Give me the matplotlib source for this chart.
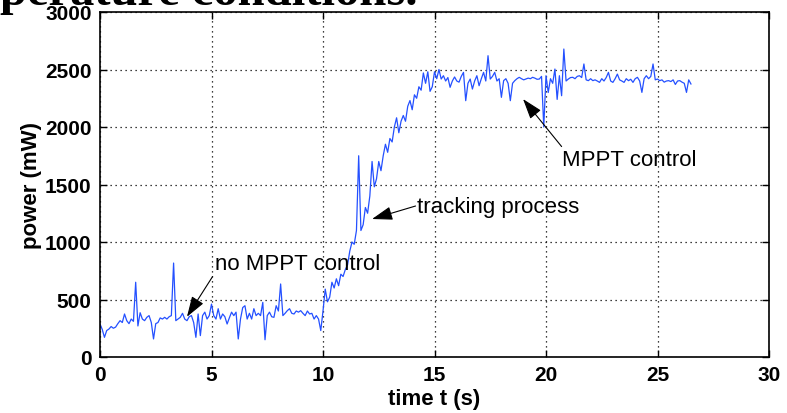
import numpy as np
import matplotlib
matplotlib.use("Agg")
import matplotlib.pyplot as plt

dt = 0.1
power = [
    287, 240, 171, 230, 243, 265, 250, 260, 290, 316,
    300, 374, 316, 290, 330, 310, 650, 270, 385, 330,
    316, 345, 360, 300, 157, 290, 300, 340, 330, 345,
    330, 350, 360, 817, 316, 330, 345, 380, 330, 316,
    350, 360, 300, 171, 374, 186, 360, 390, 330, 360,
    460, 360, 330, 420, 330, 374, 350, 287, 340, 390,
    360, 390, 157, 330, 430, 446, 330, 380, 330, 420,
    360, 380, 360, 475, 150, 360, 390, 350, 345, 446,
    400, 635, 360, 380, 403, 420, 380, 374, 400, 390,
    403, 380, 360, 400, 374, 380, 330, 360, 330, 230,
    400, 590, 480, 520, 650, 600, 680, 620, 720, 700,
    760, 800, 920, 1000, 980, 1100, 1750, 1100, 1150, 1300,
    1250, 1400, 1700, 1480, 1550, 1700, 1620, 1750, 1850, 1780,
    1900, 1870, 2000, 2080, 1950, 2050, 2100, 2050, 2180, 2230,
    2150, 2280, 2250, 2350, 2320, 2470, 2380, 2480, 2310, 2350,
    2480, 2420, 2500, 2417, 2446, 2400, 2430, 2345, 2400, 2435,
    2400, 2390, 2440, 2475, 2229, 2380, 2417, 2330, 2400, 2446,
    2359, 2420, 2475, 2400, 2620, 2417, 2440, 2475, 2400, 2420,
    2258, 2403, 2420, 2380, 2229, 2380, 2403, 2420, 2432, 2420,
    2410, 2417, 2425, 2420, 2432, 2425, 2415, 2417, 2440, 2000,
    2446, 2300, 2420, 2380, 2504, 2240, 2446, 2272, 2678, 2400,
    2417, 2430, 2432, 2420, 2440, 2446, 2430, 2548, 2410, 2403,
    2420, 2403, 2410, 2400, 2388, 2420, 2400, 2430, 2475, 2400,
    2388, 2420, 2460, 2410, 2400, 2388, 2420, 2403, 2415, 2388,
    2420, 2432, 2400, 2301, 2420, 2446, 2420, 2440, 2548, 2410,
    2417, 2403, 2410, 2390, 2400, 2403, 2395, 2410, 2370, 2400,
    2403, 2390, 2380, 2301, 2410, 2374,
]
t = np.arange(len(power)) * dt

x_ticks = [0, 5, 10, 15, 20, 25, 30]
y_ticks = [0, 500, 1000, 1500, 2000, 2500, 3000]

# (label, text position, arrow tail, arrow head)
notes = [
    ("no MPPT control", (5.15, 810), (5.05, 700), (3.9, 350)),
    ("tracking process", (14.2, 1313), (14.15, 1313), (12.2, 1200)),
    ("MPPT control", (20.7, 1720), (20.7, 1830), (18.97, 2243)),
]

plt.rcParams["font.family"] = ["Liberation Sans", "DejaVu Sans"]

fig = plt.figure(figsize=(7.87, 4.14), dpi=100)
ax = fig.add_axes([100 / 787, 1 - 358 / 414, 669 / 787, 345 / 414])

ax.plot(t, power, color="#2450ff", lw=0.9)

ax.set_xlim(0, 30)
ax.set_ylim(0, 3000)
ax.set_xticks(x_ticks)
ax.set_yticks(y_ticks)
ax.tick_params(direction="in", length=5, width=1, top=True, right=True,
               labelsize=15, pad=6)
for lab in ax.get_xticklabels() + ax.get_yticklabels():
    lab.set_fontweight("bold")
for s in ax.spines.values():
    s.set_linewidth(1.2)
ax.grid(True, color="black", linestyle=(0, (1, 3)), linewidth=0.9)

ax.set_xlabel("time t (s)", fontsize=16, fontweight="bold", labelpad=3)
ax.set_ylabel("power (mW)", fontsize=16, fontweight="bold", labelpad=2)

for label, txt, tail, head in notes:
    ax.annotate("", xy=head, xytext=tail,
                arrowprops=dict(arrowstyle="-|>,head_length=0.9,head_width=0.3",
                                color="black", lw=0.8, shrinkA=0, shrinkB=0,
                                mutation_scale=14))
    ax.text(txt[0], txt[1], label, fontsize=16, ha="left", va="center")

# caption of the page above, cut off by the crop
fig.text(0.0, 1 - 5 / 414, "perature conditions.", fontsize=35,
         fontweight="bold", family="Liberation Serif", va="baseline", ha="left")

fig.savefig("out.png", dpi=100)
